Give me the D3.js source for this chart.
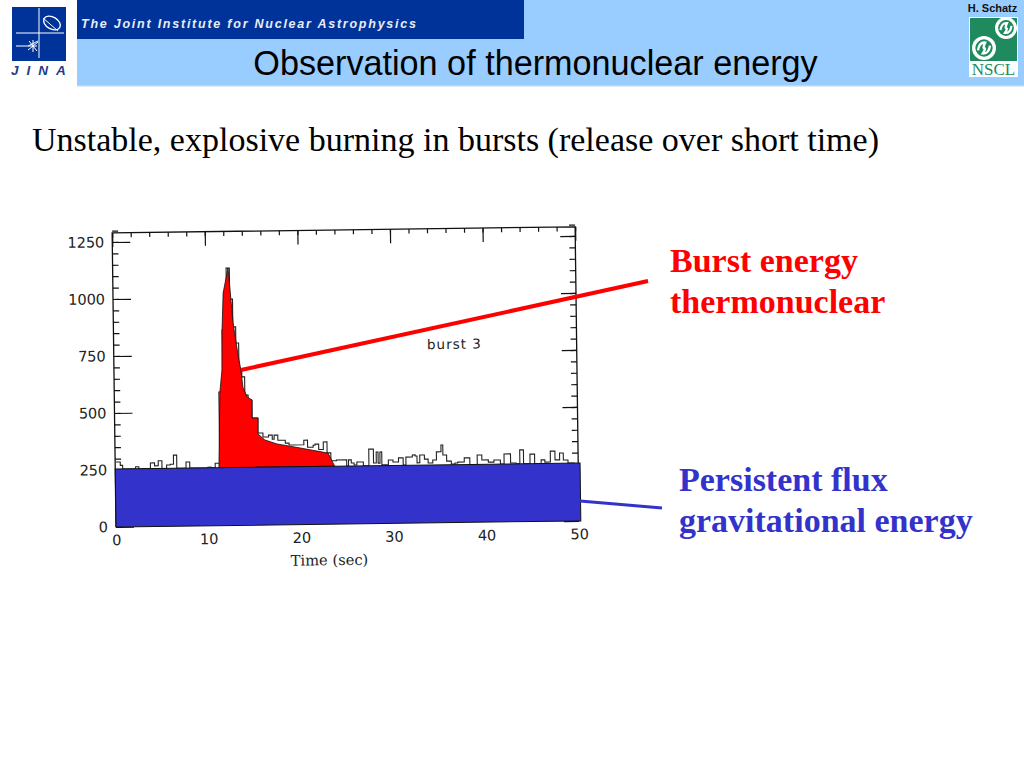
<!DOCTYPE html>
<html>
<head>
<meta charset="utf-8">
<title>Observation of thermonuclear energy</title>
<script src="https://cdn.jsdelivr.net/npm/d3@7/dist/d3.min.js"></script>
<style>
  html, body { margin: 0; padding: 0; background: #fff; }
  svg { display: block; }
  .axis path { display: none; }
  .axis line { stroke: #111; stroke-width: 1.2; }
</style>
</head>
<body>
<div id="chart"></div>
<script>
// step trace: each count holds from its time until the next time
const traceTime = [0.1, 0.55, 0.8, 2.2, 2.55, 3.8, 4.25, 4.65, 5.05, 5.55, 5.95, 6.3, 6.65, 7.65, 8.05, 10.0, 10.35, 10.8,
  11.3, 11.73, 12.0, 12.25, 12.6, 12.9, 13.2, 13.5, 13.8, 14.1, 14.45, 14.85, 15.46, 16.0, 16.6, 17.0, 17.2, 17.6, 18.4, 18.8,
  20.4, 20.8, 21.4, 21.6, 22.0, 22.5, 22.9, 23.3, 23.9, 25.0, 25.2, 25.5, 25.8, 26.1, 26.8, 27.4, 27.9, 28.2, 28.4, 28.6, 28.8,
  29.5, 30.0, 30.6, 31.1, 31.4, 32.1, 32.4, 32.6, 32.9, 33.4, 33.8, 34.3, 34.7, 35.2, 35.4, 35.8, 36.3, 36.7, 37.0, 37.7, 38.3,
  39.1, 39.6, 40.3, 40.9, 41.6, 42.0, 42.7, 43.3, 43.7, 44.1, 44.8, 45.3, 46.0, 46.4, 47.0, 47.5, 48.0, 48.4, 48.9, 49.6];
const traceCounts = [285, 270, 254, 263, 254, 279, 266, 288, 254, 269, 272, 312, 254, 281, 254, 257, 254, 274,
  586, 858, 1024, 1129, 993, 871, 800, 682, 651, 571, 549, 470, 404, 386, 394, 376, 394, 371, 358, 350,
  370, 339, 347, 352, 328, 361, 313, 278, 281, 254, 281, 267, 258, 271, 254, 327, 266, 314, 265, 314, 257,
  278, 269, 287, 255, 290, 299, 294, 264, 298, 280, 263, 276, 311, 341, 297, 270, 257, 261, 265, 283, 254,
  295, 273, 263, 272, 254, 298, 258, 254, 315, 254, 296, 254, 270, 260, 308, 269, 299, 268, 254, 254];

// hand shaded burst area
const burstTime = [11.2, 11.4, 11.66, 11.73, 11.9, 12.46, 12.65, 12.93, 13.42, 13.71, 13.9, 14.33, 14.87, 14.84, 15.5, 15.46, 16.2, 17.5, 20, 23, 23.7];
const burstCounts = [254, 582, 682, 858, 1020, 1129, 1032, 888, 747, 681, 606, 563, 549, 470, 470, 400, 373, 355, 336, 312, 254];

// persistent flux band
const persistentTime = [0, 50.2];
const persistentLevel = [254, 0];

const xMajor = [0, 10, 20, 30, 40, 50];
const yMajor = [0, 250, 500, 750, 1000, 1250];
const xMinor = d3.range(0, 51, 2);
const yMinor = d3.range(0, 1301, 50);

const red = "#ff0000";
const blue = "#3333cc";
const nsclGreen = "#1e8a5e";

const svg = d3.select("#chart").append("svg")
  .attr("width", 1024)
  .attr("height", 768)
  .style("font-family", "'Liberation Serif', serif");

// slide header
svg.append("rect").attr("x", 77).attr("y", 0).attr("width", 947).attr("height", 85).attr("fill", "#99ccff");
svg.append("rect").attr("x", 77).attr("y", 85).attr("width", 947).attr("height", 1.5).attr("fill", "#c4d4e4");
svg.append("rect").attr("x", 77).attr("y", 0).attr("width", 447).attr("height", 39).attr("fill", "#003399");
svg.append("text")
  .attr("x", 81).attr("y", 28)
  .attr("fill", "#e8edf5")
  .attr("font-family", "'Liberation Sans', sans-serif")
  .attr("font-size", 12.5).attr("font-weight", "bold").attr("font-style", "italic")
  .attr("letter-spacing", 1.76)
  .text("The Joint Institute for Nuclear Astrophysics");
svg.append("text")
  .attr("x", 535.5).attr("y", 75)
  .attr("text-anchor", "middle")
  .attr("font-family", "'Liberation Sans', sans-serif")
  .attr("font-size", 34.2)
  .attr("fill", "#000")
  .text("Observation of thermonuclear energy");
svg.append("text")
  .attr("x", 992.5).attr("y", 12)
  .attr("text-anchor", "middle")
  .attr("font-family", "'Liberation Sans', sans-serif")
  .attr("font-size", 11).attr("font-weight", "bold")
  .attr("fill", "#111")
  .text("H. Schatz");

// JINA logo
const jina = svg.append("g");
jina.append("rect").attr("x", 12).attr("y", 7).attr("width", 54).attr("height", 54).attr("fill", "#003399");
jina.append("path").attr("d", "M39 8V58M16 33H64M16 46H37").attr("stroke", "#fff").attr("stroke-width", 1).attr("fill", "none");
jina.append("path").attr("d", "M28 46l10-5M29 41l8 10M33 40v12M28 50l10-8").attr("stroke", "#fff").attr("stroke-width", 1).attr("fill", "none");
jina.append("ellipse").attr("cx", 52).attr("cy", 23).attr("rx", 9).attr("ry", 6)
  .attr("transform", "rotate(30 52 23)")
  .attr("stroke", "#fff").attr("stroke-width", 1.4).attr("fill", "none");
jina.append("path").attr("d", "M43 18L58 31").attr("stroke", "#fff").attr("stroke-width", 1);
jina.append("text")
  .attr("x", 11).attr("y", 75)
  .attr("font-family", "'Liberation Sans', sans-serif")
  .attr("font-size", 13.5).attr("font-weight", "bold").attr("font-style", "italic")
  .attr("letter-spacing", 8)
  .attr("fill", "#1c3f8c")
  .text("JINA");

// NSCL logo
const nscl = svg.append("g");
nscl.append("rect").attr("x", 969).attr("y", 17).attr("width", 49).attr("height", 60).attr("fill", "#fff");
nscl.append("rect").attr("x", 970).attr("y", 18).attr("width", 47).attr("height", 43).attr("fill", nsclGreen);
[[1006, 28, 11], [984, 48, 12]].forEach(([cx, cy, r]) => {
  nscl.append("circle").attr("cx", cx).attr("cy", cy).attr("r", r).attr("fill", "#fff");
  nscl.append("circle").attr("cx", cx).attr("cy", cy).attr("r", r * 0.72).attr("fill", nsclGreen);
  nscl.append("path")
    .attr("d", `M${cx - r * 0.5} ${cy + r * 0.2}Q${cx - r * 0.4} ${cy - r * 0.5} ${cx + r * 0.1} ${cy - r * 0.45}Q${cx - r * 0.1} ${cy} ${cx} ${cy}Q${cx + r * 0.2} ${cy} ${cx - r * 0.1} ${cy + r * 0.45}Q${cx + r * 0.4} ${cy + r * 0.5} ${cx + r * 0.5} ${cy - r * 0.2}`)
    .attr("fill", "none")
    .attr("stroke", "#fff")
    .attr("stroke-width", r * 0.2);
});
nscl.append("text")
  .attr("x", 993.5).attr("y", 75)
  .attr("text-anchor", "middle")
  .attr("font-size", 17)
  .attr("fill", nsclGreen)
  .text("NSCL");

svg.append("text")
  .attr("x", 32).attr("y", 151)
  .attr("font-size", 34)
  .attr("fill", "#000")
  .text("Unstable, explosive burning in bursts (release over short time)");

// the plot is a scan, a bit tilted on the slide
const plot = svg.append("g").attr("transform", "rotate(-0.75 116 527)");

const x = d3.scaleLinear().domain([0, 50]).range([116, 579]);
const y = d3.scaleLinear().domain([0, 1250]).range([527, 242]);
const frameTop = y(1290);

// frame
plot.append("path")
  .attr("d", `M${x(0)} ${y(0)}V${frameTop}H${x(50)}V${y(0)}`)
  .attr("fill", "none")
  .attr("stroke", "#111")
  .attr("stroke-width", 1.3);

// ticks go inward
plot.append("g").attr("class", "axis")
  .attr("transform", `translate(0,${frameTop})`)
  .call(d3.axisTop(x).tickValues(xMinor).tickSize(-4.5).tickFormat(""));
plot.append("g").attr("class", "axis")
  .attr("transform", `translate(0,${frameTop})`)
  .call(d3.axisTop(x).tickValues(xMajor).tickSize(-14).tickFormat(""));
plot.append("g").attr("class", "axis")
  .attr("transform", `translate(${x(0)},0)`)
  .call(d3.axisLeft(y).tickValues(yMinor).tickSize(-6).tickFormat(""));
plot.append("g").attr("class", "axis")
  .attr("transform", `translate(${x(50)},0)`)
  .call(d3.axisRight(y).tickValues(yMinor).tickSize(-6).tickFormat(""));
plot.append("g").attr("class", "axis")
  .attr("transform", `translate(${x(50)},0)`)
  .call(d3.axisRight(y).tickValues(yMajor).tickSize(-15).tickFormat(""));

const yAxis = plot.append("g").attr("class", "axis")
  .attr("transform", `translate(${x(0)},0)`)
  .call(d3.axisLeft(y).tickValues(yMajor).tickSize(-18).tickPadding(8).tickFormat(d3.format("d")));
yAxis.selectAll("text")
  .attr("font-family", "'DejaVu Sans', sans-serif")
  .attr("font-size", 14.5)
  .attr("fill", "#222");

const xAxis = plot.append("g").attr("class", "axis")
  .attr("transform", `translate(0,${y(0)})`)
  .call(d3.axisBottom(x).tickValues(xMajor).tickSize(0).tickPadding(8));
xAxis.selectAll("text")
  .attr("font-family", "'DejaVu Sans', sans-serif")
  .attr("font-size", 14.5)
  .attr("fill", "#222");

plot.append("text")
  .attr("x", x(23)).attr("y", y(0) + 41)
  .attr("text-anchor", "middle")
  .attr("font-family", "'DejaVu Serif', serif")
  .attr("font-size", 14.7)
  .attr("fill", "#222")
  .text("Time (sec)");

plot.append("text")
  .attr("x", x(36.8)).attr("y", y(762))
  .attr("text-anchor", "middle")
  .attr("font-family", "'DejaVu Sans', sans-serif")
  .attr("font-size", 13.5)
  .attr("letter-spacing", 1)
  .attr("fill", "#222")
  .text("burst 3");

// measured trace
const trace = traceTime.map((t, i) => [t, traceCounts[i]]);
const stepLine = d3.line().x(d => x(d[0])).y(d => y(d[1])).curve(d3.curveStepAfter);
plot.append("path")
  .attr("d", stepLine(trace))
  .attr("fill", "none")
  .attr("stroke", "#222")
  .attr("stroke-width", 1.1);

// burst energy
const burst = burstTime.map((t, i) => [t, burstCounts[i]]);
plot.append("path")
  .attr("d", d3.line().x(d => x(d[0])).y(d => y(d[1]))(burst) + "Z")
  .attr("fill", red)
  .attr("stroke", "#111")
  .attr("stroke-width", 0.8);

// persistent flux
plot.append("rect")
  .attr("x", x(persistentTime[0]))
  .attr("y", y(persistentLevel[0]))
  .attr("width", x(persistentTime[1]) - x(persistentTime[0]))
  .attr("height", y(persistentLevel[1]) - y(persistentLevel[0]))
  .attr("fill", blue)
  .attr("stroke", "#111")
  .attr("stroke-width", 1);

// leader lines and callouts
svg.append("line")
  .attr("x1", 241).attr("y1", 370).attr("x2", 648).attr("y2", 281)
  .attr("stroke", red).attr("stroke-width", 4);
svg.append("line")
  .attr("x1", 580).attr("y1", 501).attr("x2", 662).attr("y2", 508)
  .attr("stroke", blue).attr("stroke-width", 3);

const callout = (lines, xPos, yPos, color) => {
  svg.selectAll(null).data(lines).join("text")
    .attr("x", xPos)
    .attr("y", (d, i) => yPos + i * 41)
    .attr("font-size", 34)
    .attr("font-weight", "bold")
    .attr("fill", color)
    .text(d => d);
};
callout(["Burst energy", "thermonuclear"], 670, 272, red);
callout(["Persistent flux", "gravitational energy"], 679, 491, blue);
</script>
</body>
</html>
